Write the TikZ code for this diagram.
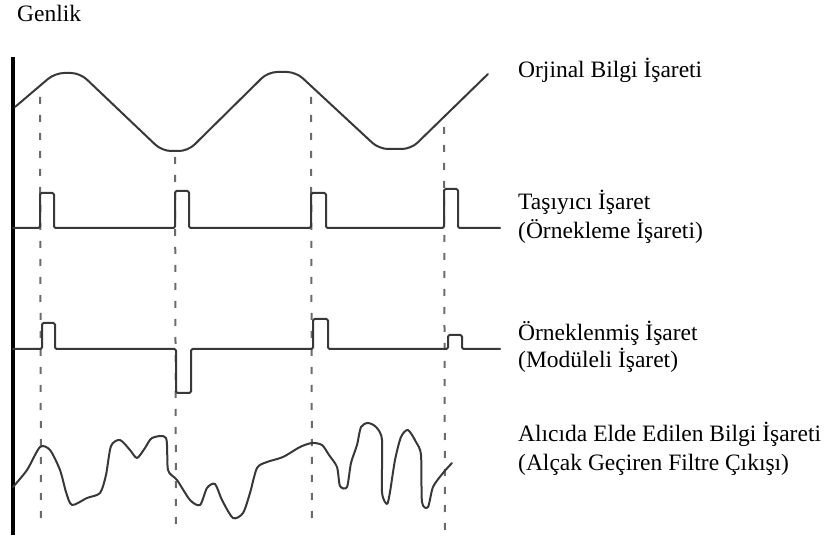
\documentclass[tikz,border=0pt]{standalone}
\usepackage{fontspec}
\setmainfont{Liberation Serif}
\begin{document}
\begin{tikzpicture}[x=1pt,y=-1pt,
  sig/.style={draw=black!78, line width=2pt, line join=round, line cap=round},
  guide/.style={draw=black!58, line width=2pt, dash pattern=on 7pt off 11pt},
  axisline/.style={draw=black, line width=4pt},
  lbl/.style={anchor=base west, inner sep=0pt, font=\fontsize{23.5}{27}\selectfont}]
\useasboundingbox (0,0) rectangle (839,540);

% dashed sampling guides
\coordinate (d1t) at (40,97);  \coordinate (d1b) at (41,527);
\coordinate (d2t) at (175,157); \coordinate (d2b) at (176,527);
\coordinate (d3t) at (311,97); \coordinate (d3b) at (312,527);
\coordinate (d4t) at (444,127); \coordinate (d4b) at (445,530);
\draw[guide] (d1t) -- (d1b);
\draw[guide] (d2t) -- (d2b);
\draw[guide] (d3t) -- (d3b);
\draw[guide] (d4t) -- (d4b);

% amplitude axis
\coordinate (axtop) at (13,57);
\coordinate (axbot) at (13,535);
\draw[axisline] (axtop) -- (axbot);

% original information signal
\draw[sig, rounded corners=9pt] (15,107) -- (55,73) -- (80,73) -- (162,151) -- (188,151)
  -- (268,72) -- (296,72) -- (379,149) -- (411,149) -- (488,74);

% carrier (sampling) signal
\draw[sig, rounded corners=1.5pt] (13,228) -- (40,228) -- (40,193) -- (54,193) -- (54,228)
  -- (175,228) -- (175,191) -- (189,191) -- (189,228)
  -- (311,228) -- (311,193) -- (326,193) -- (326,228)
  -- (444,228) -- (444,189) -- (458,189) -- (458,228) -- (500,228);

% sampled (modulated) signal
\draw[sig, rounded corners=1.5pt] (13,349) -- (42,349) -- (42,323) -- (55,323) -- (55,349)
  -- (176,349) -- (176,393) -- (191,393) -- (191,349)
  -- (313,349) -- (313,319) -- (328,319) -- (328,349)
  -- (448,349) -- (448,335) -- (462,335) -- (462,349) -- (500,349);

% received signal (low pass filter output)
\draw[sig] plot[smooth, tension=0.45] coordinates {
  (13,487) (27,470) (40,447) (50,450) (60,470) (66,492) (72,505) (87,498) (100,493)
  (106,475) (111,446) (120,440) (130,450) (137,458) (145,448) (152,438) (166,438)
  (168,470) (177,480) (190,500) (200,505) (207,488) (215,484) (222,500) (233,518)
  (243,513) (250,493) (257,468) (267,462) (283,457) (300,447) (312,443) (322,445)
  (329,455) (337,467) (340,486) (347,487) (351,463) (357,445) (361,427) (368,423)
  (376,427) (382,440) (382,492) (387,504) (390,492) (395,460) (401,437) (408,430)
  (416,442) (421,455) (422,502) (428,507) (433,487) (443,473) (452,463)};

% labels
\node[lbl] (genlik) at (17,22) {Genlik};
\node[lbl] (orj) at (518,78) {Orjinal Bilgi İşareti};
\node[lbl] (tas1) at (518,210) {Taşıyıcı İşaret};
\node[lbl] (tas2) at (518,239) {(Örnekleme İşareti)};
\node[lbl] (orn1) at (518,341) {Örneklenmiş İşaret};
\node[lbl] (orn2) at (518,367) {(Modüleli İşaret)};
\node[lbl] (alc1) at (518,442) {Alıcıda Elde Edilen Bilgi İşareti};
\node[lbl] (alc2) at (518,470) {(Alçak Geçiren Filtre Çıkışı)};
\end{tikzpicture}
\end{document}
